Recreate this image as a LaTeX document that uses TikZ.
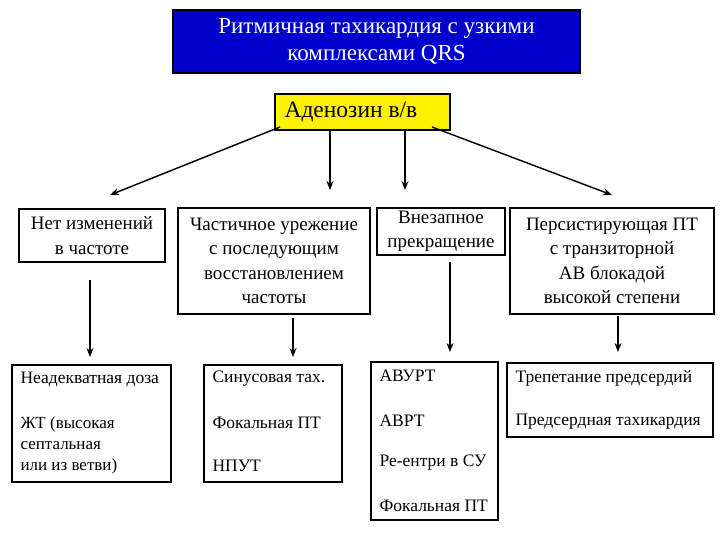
\documentclass[tikz,border=0pt]{standalone}
\usepackage{fontspec}
\setmainfont{Liberation Serif}
\usetikzlibrary{arrows.meta}
\begin{document}
\begin{tikzpicture}[x=1pt,y=-1pt,
 bx/.style={draw,line width=1.1pt,inner sep=0pt},
 tx/.style={font=\fontsize{19}{24.5}\selectfont,align=center},
 lt/.style={font=\fontsize{17.5}{20}\selectfont,anchor=west,align=left},
 ar/.style={-{Stealth[length=9pt,width=7pt]},line width=1.4pt}]
\useasboundingbox (0,0) rectangle (720,540);
\fill[white] (0,0) rectangle (720,540);
% title
\draw[bx,fill={rgb,255:red,0;green,0;blue,204}] (173,10) rectangle (580,73);
\node[tx,text=white,font=\fontsize{23}{27}\selectfont] (t) at (376.5,41.5) {Ритмичная тахикардия с узкими\\комплексами QRS};
\fill[yellow] (275,94) rectangle (450,130);
\draw[line width=1.1pt] (275,94) rectangle (450,130);
\node[font=\fontsize{23.5}{28}\selectfont,anchor=west] (a) at (281,112) {Аденозин в/в};
% row 2
\draw[bx] (19,209) rectangle (165,262);
\node[tx] (b1) at (92,235.5) {Нет изменений\\в частоте};
\draw[bx] (178,208) rectangle (370,314);
\node[tx] (b2) at (274,261) {Частичное урежение\\с последующим\\восстановлением\\частоты};
\draw[bx] (377,208) rectangle (505,255);
\node[tx] (b3) at (441,231.5) {Внезапное\\прекращение};
\draw[bx] (510,208) rectangle (714,314);
\node[tx] (b4) at (612,261) {Персистирующая ПТ\\с транзиторной\\АВ блокадой\\высокой степени};
\coordinate (s1) at (280,127); \coordinate (e1) at (110,195);
\coordinate (s2) at (330,130); \coordinate (e2) at (330,190);
\coordinate (s3) at (405,130); \coordinate (e3) at (405,190);
\coordinate (s4) at (432,127); \coordinate (e4) at (612,195);
\draw[ar] (s1)--(e1); \draw[ar] (s2)--(e2); \draw[ar] (s3)--(e3); \draw[ar] (s4)--(e4);
\coordinate (u1) at (90,280); \coordinate (v1) at (90,357);
\coordinate (u2) at (293,318); \coordinate (v2) at (293,357);
\coordinate (u3) at (450,262); \coordinate (v3) at (450,352);
\coordinate (u4) at (618,316); \coordinate (v4) at (618,352);
\draw[ar] (u1)--(v1); \draw[ar] (u2)--(v2); \draw[ar] (u3)--(v3); \draw[ar] (u4)--(v4);
% bottom
\draw[bx] (12,365) rectangle (171,482);
\node[lt] (c1) at (17,379) {Неадекватная доза};
\node[lt,font=\fontsize{17}{21}\selectfont] (c2) at (17,445) {ЖТ (высокая\\септальная\\или из ветви)};
\draw[bx] (204,365) rectangle (342,482);
\node[lt] (d1) at (209,379) {Синусовая тах.};
\node[lt] (d2) at (209,423) {Фокальная ПТ};
\node[lt] (d3) at (209,466) {НПУТ};
\draw[bx] (371,362) rectangle (498,520);
\node[lt] (e1n) at (376,376) {АВУРТ};
\node[lt] (e2n) at (376,421) {АВРТ};
\node[lt] (e3n) at (376,463) {Ре-ентри в СУ};
\node[lt] (e4n) at (376,506) {Фокальная ПТ};
\draw[bx] (507,363) rectangle (713,437);
\node[lt] (f1) at (512,378) {Трепетание предсердий};
\node[lt] (f2) at (512,422) {Предсердная тахикардия};
\end{tikzpicture}
\end{document}
